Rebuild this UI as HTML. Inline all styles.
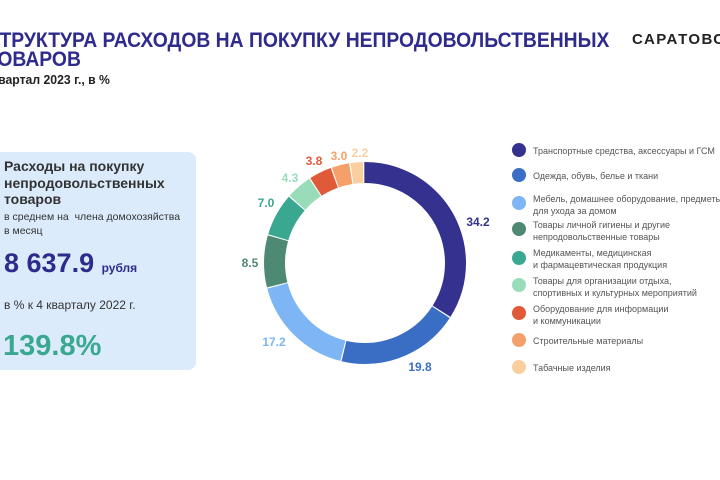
<!DOCTYPE html>
<html><head><meta charset="utf-8"><style>
body{margin:0;width:720px;height:480px;background:#fff;overflow:hidden;position:relative;font-family:"Liberation Sans",sans-serif}
.a{position:absolute;white-space:nowrap}
.t{font-weight:bold;color:#2e2b8c;font-size:21px;transform-origin:0 0;transform:scaleX(0.92)}
.lg{position:absolute;left:512px;font-size:9px;color:#555;line-height:12px}
.lg i{position:absolute;left:0;width:14px;height:14px;border-radius:50%}
.lg span{position:absolute;left:21px;white-space:nowrap}
</style></head><body>
<div class="a t" style="left:-14px;top:29px">СТРУКТУРА РАСХОДОВ НА ПОКУПКУ НЕПРОДОВОЛЬСТВЕННЫХ</div>
<div class="a t" style="left:-14px;top:48px">ТОВАРОВ</div>
<div class="a" style="left:-8px;top:72px;font-weight:bold;font-size:13px;color:#222;transform-origin:0 0;transform:scaleX(0.94)">квартал 2023 г., в %</div>
<div class="a" style="left:632px;top:31px;font-weight:bold;font-size:15px;letter-spacing:1.5px;color:#222">САРАТОВС</div>

<div class="a" style="left:-10px;top:152px;width:206px;height:218px;background:#dcebfb;border-radius:8px"></div>
<div class="a" style="left:4px;top:158px;font-size:14px;font-weight:bold;color:#333;line-height:16.5px">Расходы на покупку<br>непродовольственных<br>товаров</div>
<div class="a" style="left:4px;top:210px;font-size:10.5px;color:#333;line-height:14px">в среднем на&nbsp; члена домохозяйства<br>в месяц</div>
<div class="a" style="left:4px;top:248px;font-size:27px;font-weight:bold;color:#2e2b8c">8 637.9 <span style="font-size:12px;color:#2e2b8c">рубля</span></div>
<div class="a" style="left:4px;top:298px;font-size:12px;color:#333">в % к 4 кварталу 2022 г.</div>
<div class="a" style="left:3px;top:330px;font-size:29px;font-weight:bold;color:#3aa890">139.8%</div>

<svg class="a" style="left:0;top:0" width="720" height="480">
<g transform="rotate(-90 365 263)" fill="none" stroke-width="21">
<circle cx="365" cy="263" r="90.5" pathLength="100" stroke="#35318f" stroke-dasharray="34 66" stroke-dashoffset="0"/>
<circle cx="365" cy="263" r="90.5" pathLength="100" stroke="#3a6ec4" stroke-dasharray="19.6 80.4" stroke-dashoffset="-34.2"/>
<circle cx="365" cy="263" r="90.5" pathLength="100" stroke="#7db5f5" stroke-dasharray="17 83" stroke-dashoffset="-54"/>
<circle cx="365" cy="263" r="90.5" pathLength="100" stroke="#4e8a73" stroke-dasharray="8.3 91.7" stroke-dashoffset="-71.2"/>
<circle cx="365" cy="263" r="90.5" pathLength="100" stroke="#3aa890" stroke-dasharray="6.8 93.2" stroke-dashoffset="-79.7"/>
<circle cx="365" cy="263" r="90.5" pathLength="100" stroke="#98dcb9" stroke-dasharray="4.1 95.9" stroke-dashoffset="-86.7"/>
<circle cx="365" cy="263" r="90.5" pathLength="100" stroke="#e05a3a" stroke-dasharray="3.6 96.4" stroke-dashoffset="-91"/>
<circle cx="365" cy="263" r="90.5" pathLength="100" stroke="#f5a06a" stroke-dasharray="2.8 97.2" stroke-dashoffset="-94.8"/>
<circle cx="365" cy="263" r="90.5" pathLength="100" stroke="#f9cfa0" stroke-dasharray="2 98" stroke-dashoffset="-97.8"/>
</g>
<g font-family="Liberation Sans,sans-serif" font-weight="bold" font-size="12" text-anchor="middle">
<text x="478" y="226" fill="#35318f">34.2</text>
<text x="420" y="371" fill="#3a6ec4">19.8</text>
<text x="274" y="346" fill="#7db5f5">17.2</text>
<text x="250" y="267" fill="#4e8a73">8.5</text>
<text x="266" y="207" fill="#3aa890">7.0</text>
<text x="290" y="182" fill="#98dcb9">4.3</text>
<text x="314" y="165" fill="#e05a3a">3.8</text>
<text x="339" y="160" fill="#f5a06a">3.0</text>
<text x="360" y="157" fill="#f9cfa0">2.2</text>
</g>
</svg>

<div class="lg" style="top:143px"><i style="background:#35318f"></i><span style="top:2px">Транспортные средства, аксессуары и ГСМ</span></div>
<div class="lg" style="top:168px"><i style="background:#3a6ec4"></i><span style="top:2px">Одежда, обувь, белье и ткани</span></div>
<div class="lg" style="top:196px"><i style="background:#7db5f5"></i><span style="top:-3px">Мебель, домашнее оборудование, предметы<br>для ухода за домом</span></div>
<div class="lg" style="top:222px"><i style="background:#4e8a73"></i><span style="top:-3px">Товары личной гигиены и другие<br>непродовольственные товары</span></div>
<div class="lg" style="top:251px"><i style="background:#3aa890"></i><span style="top:-4px">Медикаменты, медицинская<br>и фармацевтическая продукция</span></div>
<div class="lg" style="top:278px"><i style="background:#98dcb9"></i><span style="top:-3px">Товары для организации отдыха,<br>спортивных и культурных мероприятий</span></div>
<div class="lg" style="top:306px"><i style="background:#e05a3a"></i><span style="top:-3px">Оборудование для информации<br>и коммуникации</span></div>
<div class="lg" style="top:333px"><i style="background:#f5a06a"></i><span style="top:2px">Строительные материалы</span></div>
<div class="lg" style="top:360px"><i style="background:#f9cfa0"></i><span style="top:2px">Табачные изделия</span></div>
</body></html>
